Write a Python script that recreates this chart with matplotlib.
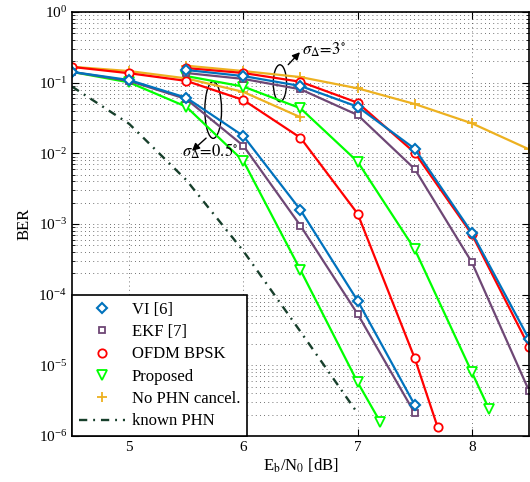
import numpy as np
import matplotlib.pyplot as plt
from matplotlib.lines import Line2D
from matplotlib.patches import Ellipse

plt.rcParams['font.family'] = ['Liberation Serif', 'DejaVu Serif']
plt.rcParams['mathtext.fontset'] = 'stix'

# sigma = 3 deg curves
snr_hi = [5.5, 6, 6.5, 7, 7.5, 8, 8.5]
vi_hi = [0.151, 0.124, 0.0897, 0.0457, 0.0116, 7.53e-4, 2.36e-5]
ekf_hi = [0.137, 0.113, 0.0806, 0.0349, 6.0e-3, 2.87e-4, 4.38e-6]
ofdm_hi = [0.161, 0.137, 0.103, 0.0521, 0.0102, 7.15e-4, 1.84e-5]
snr_prop_hi = [5.5, 6, 6.5, 7, 7.5, 8, 8.15]
prop_hi = [0.124, 0.088, 0.0434, 7.62e-3, 4.39e-4, 7.98e-6, 2.41e-6]
nophn_hi = [0.174, 0.146, 0.120, 0.0832, 0.0499, 0.0266, 0.0114]

# sigma = 0.5 deg curves
snr_lo = [4.5, 5, 5.5, 6, 6.5, 7, 7.5]
vi_lo = [0.142, 0.109, 0.0613, 0.0176, 1.58e-3, 8.22e-5, 2.75e-6]
ekf_lo = [0.142, 0.106, 0.0587, 0.0128, 9.46e-4, 5.33e-5, 2.10e-6]
snr_ofdm_lo = [4.5, 5, 5.5, 6, 6.5, 7, 7.5, 7.7]
ofdm_lo = [0.167, 0.136, 0.106, 0.0569, 0.0166, 1.40e-3, 1.26e-5, 1.34e-6]
snr_prop_lo = [4.5, 5, 5.5, 6, 6.5, 7, 7.2]
prop_lo = [0.142, 0.101, 0.0457, 7.80e-3, 2.23e-4, 5.76e-6, 1.56e-6]
snr_nophn_lo = [4.5, 5, 5.5, 6, 6.5]
nophn_lo = [0.168, 0.146, 0.115, 0.074, 0.0324]

# known phase noise
snr_known = [4.5, 5, 5.5, 6, 6.5, 7]
ber_known = [0.088, 0.0262, 4.2e-3, 4.15e-4, 3.0e-5, 2.1e-6]

c_vi = '#0072BD'
c_ekf = '#6E4775'
c_ofdm = '#FF0000'
c_prop = '#00FF00'
c_nophn = '#EDB120'
c_known = '#173F2B'

fig = plt.figure(figsize=(5.3, 4.82), dpi=100)
ax = fig.add_axes([0.1358, 0.0954, 0.8623, 0.8797])

lw = 1.6
known_ls = (0, (3.5, 2.5, 0.8, 2.5))
ax.plot(snr_known, ber_known, color=c_known, lw=1.7, ls=known_ls)
for x, y in [(snr_nophn_lo, nophn_lo), (snr_hi, nophn_hi)]:
    ax.plot(x, y, color=c_nophn, lw=lw, marker='+', ms=7, mew=1.3)
for x, y in [(snr_prop_lo, prop_lo), (snr_prop_hi, prop_hi)]:
    ax.plot(x, y, color=c_prop, lw=lw, marker='v', ms=7, mfc='white', mew=1.3)
for x, y in [(snr_ofdm_lo, ofdm_lo), (snr_hi, ofdm_hi)]:
    ax.plot(x, y, color=c_ofdm, lw=lw, marker='o', ms=6, mfc='white', mew=1.3)
for x, y in [(snr_lo, ekf_lo), (snr_hi, ekf_hi)]:
    ax.plot(x, y, color=c_ekf, lw=lw, marker='s', ms=5, mfc='white', mew=1.3)
for x, y in [(snr_lo, vi_lo), (snr_hi, vi_hi)]:
    ax.plot(x, y, color=c_vi, lw=lw, marker='D', ms=5.5, mfc='white', mew=1.5)

ax.set_yscale('log')
ax.set_xlim(4.5, 8.5)
ax.set_ylim(1e-6, 1)
ax.set_xticks([5, 6, 7, 8])
ax.set_yticks([1e-6, 1e-5, 1e-4, 1e-3, 1e-2, 1e-1, 1])
ax.tick_params(which='both', direction='in', top=True, right=True, labelsize=11)
ax.tick_params(which='major', length=5)
ax.tick_params(which='minor', length=2.5)
ax.grid(True, which='major', ls=(0, (1, 4)), color='#444444', lw=0.6)
ax.grid(True, which='minor', axis='y', ls=(0, (1, 4)), color='#444444', lw=0.6)
for s in ax.spines.values():
    s.set_linewidth(1.2)

ax.set_xlabel(r'E$_\mathrm{b}$/N$_\mathrm{0}$ [dB]', fontsize=12, labelpad=2)
ax.set_ylabel('BER', fontsize=12, labelpad=4)

# ellipses and labels
ax.add_patch(Ellipse((0.309, 0.769), 0.0365, 0.134, transform=ax.transAxes,
                     fill=False, color='black', lw=1))
ax.annotate('', xy=(0.258, 0.668), xycoords='axes fraction',
            xytext=(0.298, 0.707), textcoords='axes fraction',
            arrowprops=dict(arrowstyle='-|>', color='black', lw=1, mutation_scale=11))
ax.text(0.240, 0.672, r'$\sigma_{\Delta}\!=\!0.5^{\circ}$', transform=ax.transAxes,
        fontsize=12, va='center', ha='left')

ax.add_patch(Ellipse((0.455, 0.832), 0.029, 0.087, transform=ax.transAxes,
                     fill=False, color='black', lw=1))
ax.annotate('', xy=(0.503, 0.910), xycoords='axes fraction',
            xytext=(0.469, 0.871), textcoords='axes fraction',
            arrowprops=dict(arrowstyle='-|>', color='black', lw=1, mutation_scale=11))
ax.text(0.503, 0.910, r'$\sigma_{\Delta}\!=\!3^{\circ}$', transform=ax.transAxes,
        fontsize=12, va='center', ha='left')

handles = [
    Line2D([], [], ls='none', color=c_vi, marker='D', ms=5.5, mfc='white', mew=1.5),
    Line2D([], [], ls='none', color=c_ekf, marker='s', ms=5, mfc='white', mew=1.3),
    Line2D([], [], ls='none', color=c_ofdm, marker='o', ms=6, mfc='white', mew=1.3),
    Line2D([], [], ls='none', color=c_prop, marker='v', ms=7, mfc='white', mew=1.3),
    Line2D([], [], ls='none', color=c_nophn, marker='+', ms=7, mew=1.3),
    Line2D([], [], color=c_known, lw=1.7, ls=known_ls),
]
labels = ['VI [6]', 'EKF [7]', 'OFDM BPSK', 'Proposed', 'No PHN cancel.', 'known PHN']
leg = ax.legend(handles, labels, loc='lower left', fontsize=12, borderaxespad=0,
                fancybox=False, framealpha=1, edgecolor='black', handlelength=2.8,
                labelspacing=0.38, handletextpad=0.4, borderpad=0.4)
leg.get_frame().set_linewidth(1.2)

fig.savefig('out.png', dpi=100)
